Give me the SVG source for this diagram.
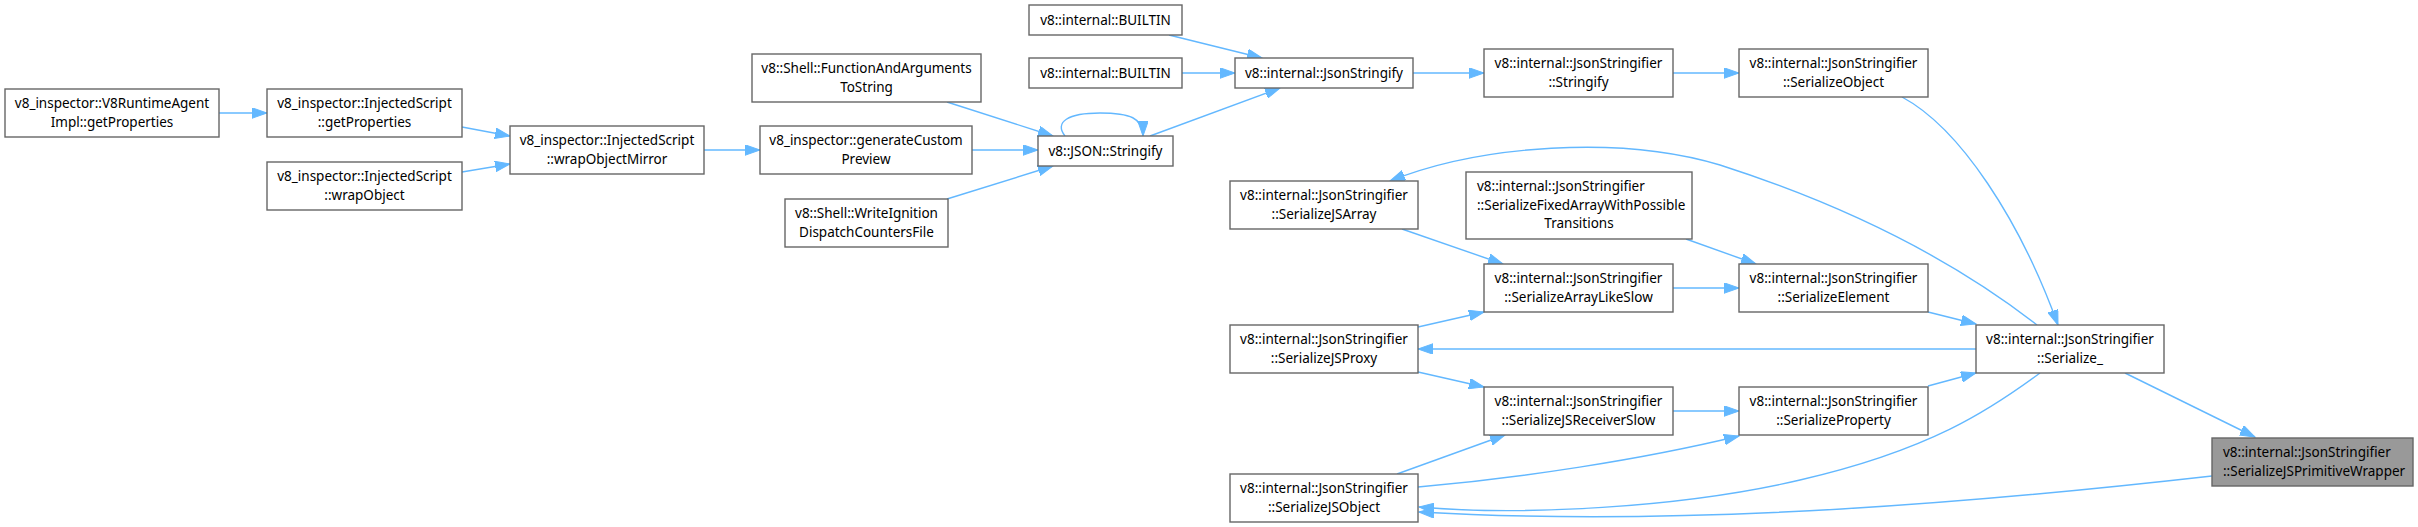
<svg xmlns="http://www.w3.org/2000/svg" width="2418" height="527" viewBox="0 0 2418 527">
<style>
.n rect{fill:#fff;stroke:#666;stroke-width:1.4}
.n.hl rect{fill:#999}
.n text{font-family:"Noto Sans","Open Sans",sans-serif;font-size:13.5px;fill:#000;text-anchor:middle}
.n text.l{text-anchor:start}
.e path{fill:none;stroke:#63b8ff;stroke-width:1.4;marker-end:url(#ah)}
</style>
<defs>
<marker id="ah" markerUnits="userSpaceOnUse" markerWidth="16" markerHeight="11" refX="15" refY="5.25" orient="auto">
<path d="M0,0 L15,5.25 L0,10.5 z" fill="#63b8ff" stroke="#63b8ff" stroke-width="1"/>
</marker>
</defs>
<rect width="2418" height="527" fill="#fff"/>
<g id="edges" class="e">
<path d="M219,113 L267,113"/>
<path d="M462,127 L510,136"/>
<path d="M462,172 L510,164"/>
<path d="M704,150 L760,150"/>
<path d="M972,150 L1038,150"/>
<path d="M947,102 L1053,136"/>
<path d="M947,199 L1053,166"/>
<path d="M1065,136 C1054,122 1068,113 1100,113 C1130,113 1143,118 1143,136"/>
<path d="M1150,136 L1280,88"/>
<path d="M1169,35 L1262,58"/>
<path d="M1182,73 L1235,73"/>
<path d="M1413,73 L1484,73"/>
<path d="M1673,73 L1739,73"/>
<path d="M1902,97 C1960,128 2020,220 2058,325"/>
<path d="M2037,325 C1960,265 1860,210 1720,165 C1620,135 1480,145 1390,181"/>
<path d="M1402,229 L1503,264"/>
<path d="M1686,239 L1756,264"/>
<path d="M1673,288 L1739,288"/>
<path d="M1928,312 L1976,324"/>
<path d="M1976,349 L1418,349"/>
<path d="M1418,327 L1484,312"/>
<path d="M1418,372 L1484,387"/>
<path d="M1673,411 L1739,411"/>
<path d="M1928,386 L1976,373"/>
<path d="M1397,474 L1505,435"/>
<path d="M1418,487 C1520,478 1640,460 1739,436"/>
<path d="M2040,373 C1990,410 1930,450 1800,480 C1680,508 1520,516 1419,507"/>
<path d="M2212,476 C2000,500 1700,528 1419,512"/>
<path d="M2125,373 L2255,437"/>
</g>
<g id="n1" class="n"><rect x="5" y="89" width="214" height="48"/><text x="112" y="108">v8_inspector::V8RuntimeAgent</text><text x="112" y="126.5">Impl::getProperties</text></g>
<g id="n2" class="n"><rect x="267" y="89" width="195" height="48"/><text x="364.5" y="108">v8_inspector::InjectedScript</text><text x="364.5" y="126.5">::getProperties</text></g>
<g id="n3" class="n"><rect x="267" y="162" width="195" height="48"/><text x="364.5" y="181">v8_inspector::InjectedScript</text><text x="364.5" y="199.5">::wrapObject</text></g>
<g id="n4" class="n"><rect x="510" y="126" width="194" height="48"/><text x="607" y="145">v8_inspector::InjectedScript</text><text x="607" y="163.5">::wrapObjectMirror</text></g>
<g id="n5" class="n"><rect x="752" y="54" width="229" height="48"/><text x="866.5" y="73">v8::Shell::FunctionAndArguments</text><text x="866.5" y="91.5">ToString</text></g>
<g id="n6" class="n"><rect x="760" y="126" width="212" height="48"/><text x="866" y="145">v8_inspector::generateCustom</text><text x="866" y="163.5">Preview</text></g>
<g id="n7" class="n"><rect x="785" y="199" width="163" height="48"/><text x="866.5" y="218">v8::Shell::WriteIgnition</text><text x="866.5" y="236.5">DispatchCountersFile</text></g>
<g id="n8" class="n"><rect x="1038" y="136" width="135" height="30"/><text x="1105.5" y="155.5">v8::JSON::Stringify</text></g>
<g id="n9" class="n"><rect x="1029" y="5" width="153" height="30"/><text x="1105.5" y="24.5">v8::internal::BUILTIN</text></g>
<g id="n10" class="n"><rect x="1029" y="58" width="153" height="30"/><text x="1105.5" y="77.5">v8::internal::BUILTIN</text></g>
<g id="n11" class="n"><rect x="1235" y="58" width="178" height="30"/><text x="1324" y="77.5">v8::internal::JsonStringify</text></g>
<g id="n12" class="n"><rect x="1484" y="49" width="189" height="48"/><text x="1578.5" y="68">v8::internal::JsonStringifier</text><text x="1578.5" y="86.5">::Stringify</text></g>
<g id="n13" class="n"><rect x="1739" y="49" width="189" height="48"/><text x="1833.5" y="68">v8::internal::JsonStringifier</text><text x="1833.5" y="86.5">::SerializeObject</text></g>
<g id="n14" class="n"><rect x="1230" y="181" width="188" height="48"/><text x="1324" y="200">v8::internal::JsonStringifier</text><text x="1324" y="218.5">::SerializeJSArray</text></g>
<g id="n15" class="n"><rect x="1466" y="172" width="226" height="67"/><text class="l" x="1477" y="191">v8::internal::JsonStringifier</text><text class="l" x="1477" y="209.5">::SerializeFixedArrayWithPossible</text><text x="1579" y="228">Transitions</text></g>
<g id="n16" class="n"><rect x="1484" y="264" width="189" height="48"/><text x="1578.5" y="283">v8::internal::JsonStringifier</text><text x="1578.5" y="301.5">::SerializeArrayLikeSlow</text></g>
<g id="n17" class="n"><rect x="1739" y="264" width="189" height="48"/><text x="1833.5" y="283">v8::internal::JsonStringifier</text><text x="1833.5" y="301.5">::SerializeElement</text></g>
<g id="n18" class="n"><rect x="1230" y="325" width="188" height="48"/><text x="1324" y="344">v8::internal::JsonStringifier</text><text x="1324" y="362.5">::SerializeJSProxy</text></g>
<g id="n19" class="n"><rect x="1976" y="325" width="188" height="48"/><text x="2070" y="344">v8::internal::JsonStringifier</text><text x="2070" y="362.5">::Serialize_</text></g>
<g id="n20" class="n"><rect x="1484" y="387" width="189" height="48"/><text x="1578.5" y="406">v8::internal::JsonStringifier</text><text x="1578.5" y="424.5">::SerializeJSReceiverSlow</text></g>
<g id="n21" class="n"><rect x="1739" y="387" width="189" height="48"/><text x="1833.5" y="406">v8::internal::JsonStringifier</text><text x="1833.5" y="424.5">::SerializeProperty</text></g>
<g id="n22" class="n"><rect x="1230" y="474" width="188" height="48"/><text x="1324" y="493">v8::internal::JsonStringifier</text><text x="1324" y="511.5">::SerializeJSObject</text></g>
<g id="n23" class="n hl"><rect x="2212" y="438" width="201" height="48"/><text class="l" x="2223" y="457">v8::internal::JsonStringifier</text><text class="l" x="2223" y="475.5">::SerializeJSPrimitiveWrapper</text></g>
</svg>
